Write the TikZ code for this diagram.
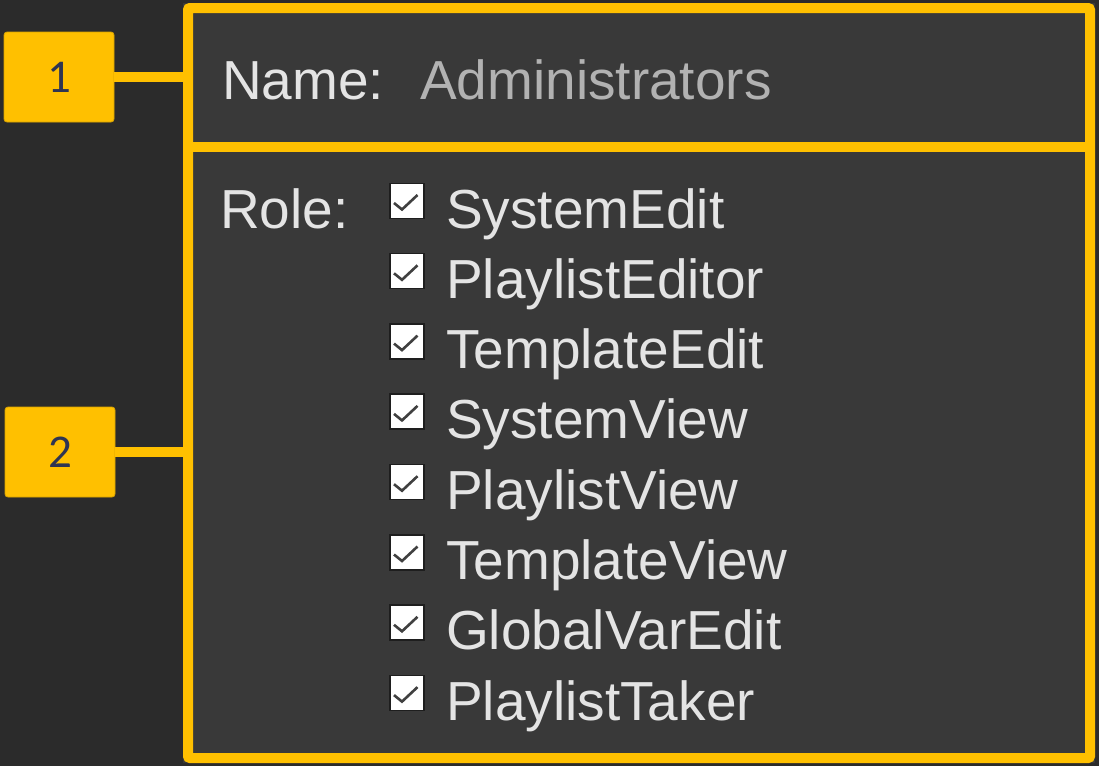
\documentclass[tikz,border=0pt]{standalone}
\usepackage{fontspec}
\setmainfont{Liberation Sans}
\newfontfamily\calfont{Carlito}
\usetikzlibrary{positioning}
\definecolor{bgdark}{HTML}{2B2B2B}
\definecolor{panelgray}{HTML}{393939}
\definecolor{markyellow}{HTML}{FFC000}
\definecolor{marknavy}{HTML}{2F3552}
\definecolor{uitext}{HTML}{E4E4E4}
\definecolor{uivalue}{HTML}{B2B2B2}
\definecolor{boxedge}{HTML}{1E1E1E}
\definecolor{tickgray}{HTML}{404040}
\begin{document}
\begin{tikzpicture}[x=1pt,y=-1pt,
    label/.style={draw=markyellow!85!black,line width=0.8pt,fill=markyellow,rounded corners=3pt,
                  minimum width=110pt,minimum height=90pt,inner sep=0pt,
                  font=\calfont\fontsize{47}{56}\selectfont,text=marknavy},
    uitxt/.style={anchor=base west,inner sep=0pt,font=\fontsize{55}{66}\selectfont,text=uitext},
    checkbox/.style={draw=boxedge,line width=1.5pt,fill=white,minimum width=34pt,minimum height=35pt,
                     inner sep=0pt,anchor=south west},
    conn/.style={draw=markyellow,line width=9.5pt}]
\useasboundingbox (0,0) rectangle (1099,766);
\fill[bgdark] (0,0) rectangle (1099,766);
% panel
\fill[panelgray] (183,3) rectangle (1095,763);
\draw[markyellow,line width=10pt,rounded corners=2pt] (188,8) rectangle (1090,758);
\draw[markyellow,line width=10pt] (183,147) -- (1095,147);
\coordinate (nameedge) at (188,77);
\coordinate (roleedge) at (188,452);
% callouts
\node[label] (lab1) at (59,77) {1};
\node[label] (lab2) at (60,452) {2};
\draw[conn] (lab1.east) -- (nameedge);
\draw[conn] (lab2.east) -- (roleedge);
% name row
\node[uitxt] (name) at (222,99) {Name:};
\node[uitxt,text=uivalue] (admin) at (420,99) {Administrators};
% role rows
\node[uitxt] (role) at (220,228) {Role:};
\foreach \item [count=\i from 0] in {SystemEdit,PlaylistEditor,TemplateEdit,SystemView,
                                     PlaylistView,TemplateView,GlobalVarEdit,PlaylistTaker}{
  \node[checkbox] (box\i) at (389,228+70.3*\i-9) {};
  \draw[tickgray,line width=2.6pt] ([shift={(5pt,16pt)}]box\i.south west) -- ([shift={(13pt,9.5pt)}]box\i.south west)
        -- ([shift={(28.5pt,24pt)}]box\i.south west);
  \node[uitxt] (item\i) at (446,228+70.3*\i) {\item};
}
\end{tikzpicture}
\end{document}
